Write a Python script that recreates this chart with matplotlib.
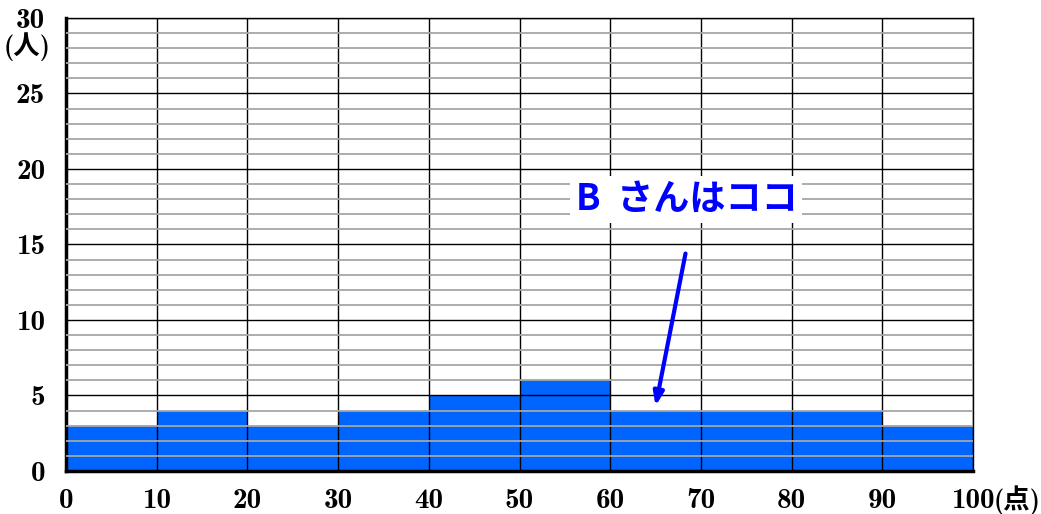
import numpy as np
import matplotlib.pyplot as plt

# score bins (lower edge) and number of people
bins = [0, 10, 20, 30, 40, 50, 60, 70, 80, 90]
counts = [3, 4, 3, 4, 5, 6, 4, 4, 4, 3]
xticks = [0, 10, 20, 30, 40, 50, 60, 70, 80, 90, 100]
yticks = [0, 5, 10, 15, 20, 25, 30]

fig = plt.figure(figsize=(10.41, 5.14), dpi=100)
ax = fig.add_axes([0.0634, 0.0837, 0.8713, 0.8813])

ax.bar(bins, counts, width=10, align='edge', color='#0064ff', linewidth=0, zorder=1)

ax.set_xlim(0, 100)
ax.set_ylim(0, 30)
ax.set_xticks(xticks)
ax.set_yticks(yticks)
ax.set_yticks(np.arange(0, 31, 1), minor=True)

# grid drawn over bars
ax.set_axisbelow(False)
ax.grid(which='minor', axis='y', color='#a6a6a6', linewidth=1.3, zorder=2)
ax.grid(which='major', axis='y', color='black', linewidth=1.0, zorder=3)
ax.grid(which='major', axis='x', color='black', linewidth=1.0, zorder=3)

for s in ['top', 'right']:
    ax.spines[s].set_linewidth(1.0)
for s in ['left', 'bottom']:
    ax.spines[s].set_linewidth(2.5)

ax.tick_params(which='both', length=0)
ax.tick_params(axis='y', pad=15)
ax.tick_params(axis='x', pad=12)

fam = ['cmb10', 'Noto Sans CJK JP']
ax.set_xticklabels([str(v) for v in xticks], fontfamily=fam, fontsize=21)
ax.set_yticklabels([str(v) for v in yticks], fontfamily=fam, fontsize=21)

# units
fig.text(51 / 1041, 1 - 47 / 514, '(人)', ha='right', va='center',
         fontsize=19, fontweight='bold', family=['cmb10', 'Noto Sans CJK JP'])
fig.text(994 / 1041, 1 - 500 / 514, '(点)', ha='left', va='center',
         fontsize=19, fontweight='bold', family=['cmb10', 'Noto Sans CJK JP'])

# annotation
ax.text(68.4, 18.0, 'B  さんはココ', ha='center', va='center', fontsize=26, fontweight='bold',
        color='#0000ff', family=['Noto Sans CJK JP'], zorder=5,
        bbox=dict(boxstyle='square,pad=0.14', facecolor='white', edgecolor='none'))
ax.annotate('', xy=(65.0, 4.3), xytext=(68.3, 14.4),
            arrowprops=dict(arrowstyle='-|>,head_length=0.8,head_width=0.3', color='#0000ff',
                            linewidth=3, shrinkA=0, shrinkB=0), zorder=5)

fig.savefig('out.png', dpi=100)
